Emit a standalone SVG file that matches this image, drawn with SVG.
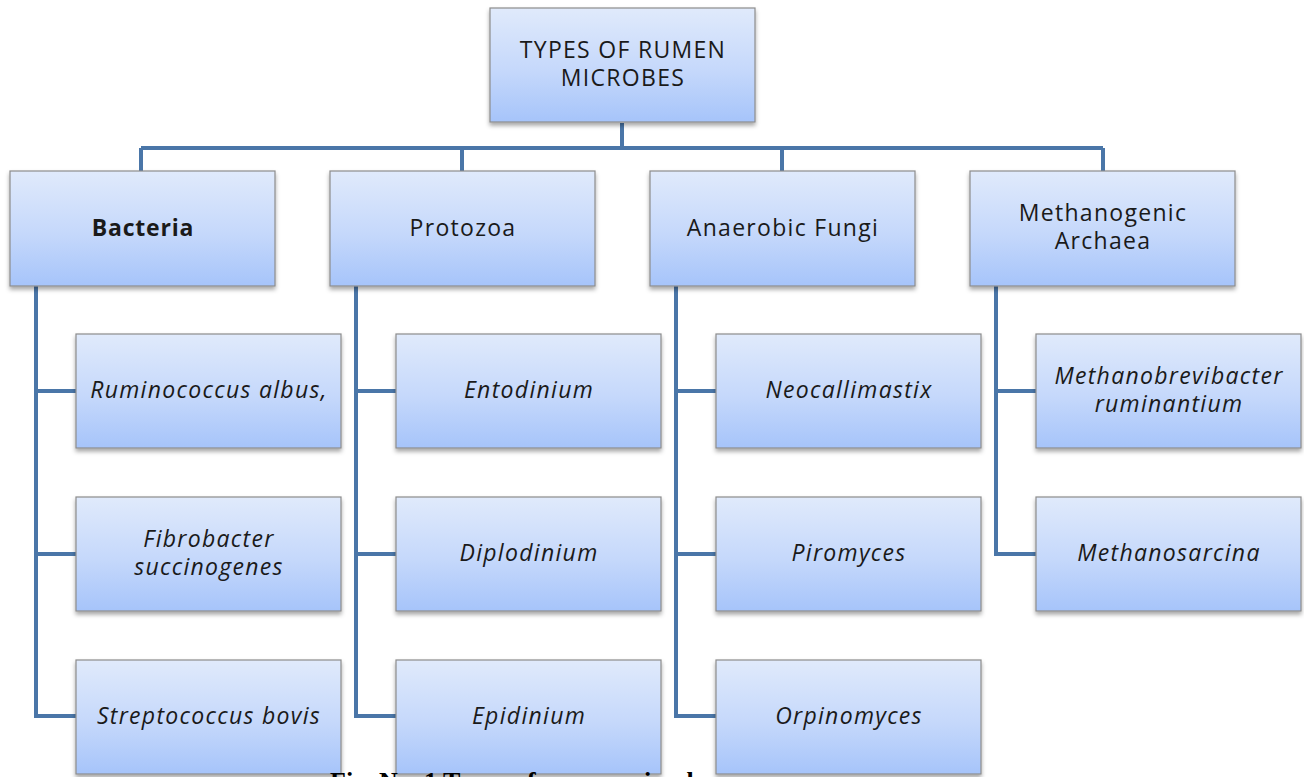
<svg xmlns="http://www.w3.org/2000/svg" width="1304" height="777" viewBox="0 0 1304 777">
<style>
.box{fill:url(#g);stroke:#8c8c8c;stroke-width:1.2;filter:url(#sh)}
.t{font-family:"Open Sans",Lato,sans-serif;font-size:23px;letter-spacing:1.3px;fill:#1a1a1a;text-anchor:middle}
.i{font-style:italic}
.b{font-weight:bold;letter-spacing:0.8px}
.c{fill:none;stroke:#4a76a8;stroke-width:4;stroke-linejoin:miter}
.cap{font-family:"Liberation Serif",serif;font-weight:bold;font-size:26px;fill:#000}
</style>
<defs>
<linearGradient id="g" x1="0" y1="0" x2="0" y2="1">
<stop offset="0" stop-color="#e0eafb"/>
<stop offset="0.55" stop-color="#c5d8fb"/>
<stop offset="1" stop-color="#a6c4fa"/>
</linearGradient>
<filter id="sh" x="-10%" y="-10%" width="120%" height="130%">
<feDropShadow dx="0" dy="3" stdDeviation="2" flood-color="#000" flood-opacity="0.35"/>
</filter>
</defs>
<g id="connectors">
<path class="c" d="M622 123V148M141 148H1103M141 148V171M462 148V171M782 148V171M1103 148V171"/>
<path class="c" d="M36 286V716H76M36 391H76M36 554H76"/>
<path class="c" d="M356 286V716H396M356 391H396M356 554H396"/>
<path class="c" d="M676 286V716H716M676 391H716M676 554H716"/>
<path class="c" d="M996 286V554H1036M996 391H1036"/>
</g>
<g id="root"><rect class="box" x="490" y="8" width="265" height="114"/><text class="t"><tspan x="623" y="58">TYPES OF RUMEN</tspan><tspan x="623" y="86">MICROBES</tspan></text></g>
<g id="bacteria"><rect class="box" x="10" y="171" width="265" height="115"/><text class="t b" x="143" y="236">Bacteria</text></g>
<g id="protozoa"><rect class="box" x="330" y="171" width="265" height="115"/><text class="t" x="463" y="236">Protozoa</text></g>
<g id="fungi"><rect class="box" x="650" y="171" width="265" height="115"/><text class="t" x="783" y="236">Anaerobic Fungi</text></g>
<g id="archaea"><rect class="box" x="970" y="171" width="265" height="115"/><text class="t"><tspan x="1103" y="221">Methanogenic</tspan><tspan x="1103" y="249">Archaea</tspan></text></g>
<g id="ruminococcus"><rect class="box" x="76" y="334" width="265" height="114"/><text class="t i" x="209" y="398">Ruminococcus albus,</text></g>
<g id="fibrobacter"><rect class="box" x="76" y="497" width="265" height="114"/><text class="t i"><tspan x="209" y="547">Fibrobacter</tspan><tspan x="209" y="575">succinogenes</tspan></text></g>
<g id="streptococcus"><rect class="box" x="76" y="660" width="265" height="114"/><text class="t i" x="209" y="724">Streptococcus bovis</text></g>
<g id="entodinium"><rect class="box" x="396" y="334" width="265" height="114"/><text class="t i" x="529" y="398">Entodinium</text></g>
<g id="diplodinium"><rect class="box" x="396" y="497" width="265" height="114"/><text class="t i" x="529" y="561">Diplodinium</text></g>
<g id="epidinium"><rect class="box" x="396" y="660" width="265" height="114"/><text class="t i" x="529" y="724">Epidinium</text></g>
<g id="neocallimastix"><rect class="box" x="716" y="334" width="265" height="114"/><text class="t i" x="849" y="398">Neocallimastix</text></g>
<g id="piromyces"><rect class="box" x="716" y="497" width="265" height="114"/><text class="t i" x="849" y="561">Piromyces</text></g>
<g id="orpinomyces"><rect class="box" x="716" y="660" width="265" height="114"/><text class="t i" x="849" y="724">Orpinomyces</text></g>
<g id="methanobrevibacter"><rect class="box" x="1036" y="334" width="265" height="114"/><text class="t i"><tspan x="1169" y="384">Methanobrevibacter</tspan><tspan x="1169" y="412">ruminantium</tspan></text></g>
<g id="methanosarcina"><rect class="box" x="1036" y="497" width="265" height="114"/><text class="t i" x="1169" y="561">Methanosarcina</text></g>
<text class="cap" x="330" y="790">Fig. No. 1 Types of rumen microbes</text>
</svg>
